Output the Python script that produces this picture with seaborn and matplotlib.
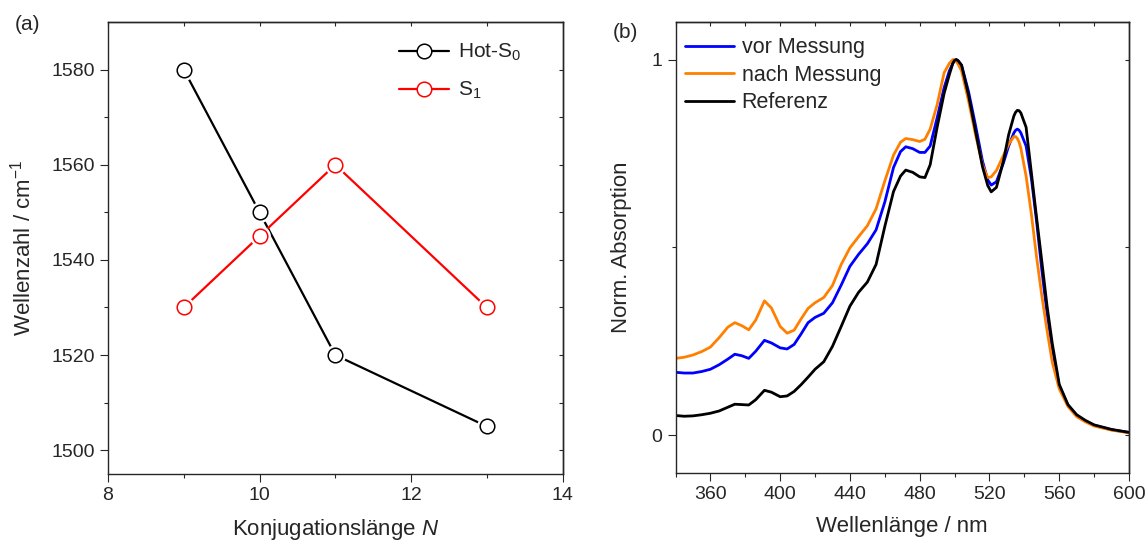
import numpy as np
import pandas as pd
import matplotlib
matplotlib.use("Agg")
import matplotlib.pyplot as plt
from matplotlib.lines import Line2D
from matplotlib.ticker import NullFormatter, FixedLocator
import seaborn as sns

# ---------------- data ----------------
# panel (a)
conj_len = [9, 10, 11, 13]
hot_s0 = [1580, 1550, 1520, 1505]
s1 = [1530, 1545, 1560, 1530]

# panel (b)
wavelength = [340, 345, 350, 355, 360, 365, 370, 374, 378, 382, 386, 391, 395, 400,
              404, 408, 412, 416, 420, 425, 430, 435, 440, 445, 450, 455, 460, 465,
              469, 472, 476, 480, 483, 486, 490, 494, 497, 499, 500, 501, 502, 504, 508, 512,
              516, 519, 521, 524, 528, 531, 534, 535, 536, 537, 538, 541, 544, 547, 550, 553,
              556, 560, 565, 570, 575, 580, 590, 600]
vor_messung = [.168, .166, .166, .170, .176, .188, .203, .216, .212, .205, .224, .253, .246, .233,
               .230, .242, .270, .300, .314, .325, .353, .400, .450, .482, .510, .547, .621, .713,
               .755, .768, .763, .753, .753, .770, .845, .925, .970, .990, .998, 1.000, .997, .985, .915, .825,
               .730, .680, .666, .675, .725, .770, .805, .812, .815, .812, .805, .770, .685, .570, .441, .325,
               .230, .131, .080, .053, .038, .027, .015, .008]
nach_messung = [.205, .208, .214, .223, .235, .260, .288, .300, .292, .281, .307, .358, .339, .290,
                .272, .280, .310, .338, .353, .367, .399, .455, .499, .529, .558, .603, .677, .746,
                .780, .790, .787, .782, .788, .815, .880, .965, .990, 1.000, .999, .995, .988, .970, .890, .800,
                .720, .686, .688, .705, .745, .775, .795, .795, .790, .780, .764, .690, .590, .475, .372, .280,
                .195, .124, .077, .050, .036, .025, .014, .007]
referenz = [.053, .051, .052, .055, .059, .065, .075, .083, .082, .081, .095, .120, .115, .103,
            .105, .117, .135, .155, .176, .196, .237, .290, .344, .381, .408, .455, .556, .649,
            .690, .706, .700, .688, .686, .720, .820, .910, .960, .990, .998, 1.000, .997, .985, .905, .810,
            .715, .665, .648, .660, .730, .800, .850, .860, .865, .864, .858, .820, .700, .580, .464, .345,
            .245, .136, .082, .055, .040, .028, .016, .008]

# ---------------- style ----------------
sns.set_theme(style="ticks")
plt.rcParams["font.family"] = ["Liberation Sans", "DejaVu Sans"]
plt.rcParams["mathtext.fontset"] = "custom"
plt.rcParams["mathtext.rm"] = "Liberation Sans"
plt.rcParams["mathtext.it"] = "Liberation Sans:italic"
plt.rcParams["axes.linewidth"] = 1.0

fig = plt.figure(figsize=(11.45, 5.47), dpi=100)
W, H = 1145, 547
ax1 = fig.add_axes([108 / W, 1 - 474 / H, (562.6 - 108) / W, (474 - 22) / H])
ax2 = fig.add_axes([675.5 / W, 1 - 473 / H, (1129 - 675.5) / W, (473 - 22) / H])

tick_fs = 14
label_fs = 16

# ---------------- panel (a) ----------------
df_a = pd.DataFrame({"N": conj_len, "hot": hot_s0, "s1": s1})
for col, c in [("hot", "black"), ("s1", "#FF0000")]:
    sns.lineplot(data=df_a, x="N", y=col, ax=ax1, color=c, linewidth=1.6, zorder=2)
    sns.lineplot(data=df_a, x="N", y=col, ax=ax1, linestyle="none", marker="o",
                 markersize=15, markerfacecolor="white", markeredgecolor="white",
                 markeredgewidth=0, zorder=3)
    sns.lineplot(data=df_a, x="N", y=col, ax=ax1, linestyle="none", marker="o",
                 markersize=10.5, markerfacecolor="white", markeredgecolor=c,
                 markeredgewidth=1.1, zorder=4)

ax1.set_xlim(8, 14)
ax1.set_ylim(1495, 1590)
ax1.xaxis.set_major_locator(FixedLocator([8, 10, 12, 14]))
ax1.xaxis.set_minor_locator(FixedLocator([9, 11, 13]))
ax1.yaxis.set_major_locator(FixedLocator([1500, 1520, 1540, 1560, 1580]))
ax1.yaxis.set_minor_locator(FixedLocator([1510, 1530, 1550, 1570]))
ax1.tick_params(which="major", direction="out", length=5.5, width=0.8, labelsize=tick_fs, pad=4)
ax1.tick_params(which="minor", direction="out", length=3, width=0.8)
ax1.set_xlabel("Konjugationslänge $\\it{N}$", fontsize=label_fs, labelpad=9)
ax1.set_ylabel("Wellenzahl / cm$^{-1}$", fontsize=label_fs, labelpad=11)

sx = ax1.secondary_xaxis("top")
sx.xaxis.set_major_locator(FixedLocator(list(range(8, 15))))
sx.xaxis.set_major_formatter(NullFormatter())
sx.tick_params(direction="in", length=3, width=0.8)
sy = ax1.secondary_yaxis("right")
sy.yaxis.set_major_locator(FixedLocator(list(range(1500, 1591, 10))))
sy.yaxis.set_major_formatter(NullFormatter())
sy.tick_params(direction="in", length=3, width=0.8)

handles_a = [Line2D([], [], color="black", lw=1.6, marker="o", ms=10.5, mfc="white", mec="black", mew=1.1),
             Line2D([], [], color="#FF0000", lw=1.6, marker="o", ms=10.5, mfc="white", mec="#FF0000", mew=1.1)]
ax1.legend(handles_a, ["Hot-S$_0$", "S$_1$"], loc="upper left", bbox_to_anchor=(0.641, 0.956),
           frameon=False, fontsize=15, handlelength=2.4, handletextpad=0.4,
           labelspacing=0.8, borderaxespad=0, borderpad=0)

# ---------------- panel (b) ----------------
df_b = pd.DataFrame({"wl": wavelength, "vor": vor_messung, "nach": nach_messung, "ref": referenz})
series_b = [("vor", "#0000FF", "vor Messung"), ("nach", "#FF8000", "nach Messung"),
            ("ref", "black", "Referenz")]
for col, c, lab in series_b:
    sns.lineplot(data=df_b, x="wl", y=col, ax=ax2, color=c, linewidth=2.0, label=lab)

ax2.set_xlim(340, 600)
ax2.set_ylim(-0.1, 1.1)
ax2.xaxis.set_major_locator(FixedLocator([360, 400, 440, 480, 520, 560, 600]))
ax2.xaxis.set_minor_locator(FixedLocator([340, 380, 420, 460, 500, 540, 580]))
ax2.yaxis.set_major_locator(FixedLocator([0, 1]))
ax2.yaxis.set_minor_locator(FixedLocator([0.5]))
ax2.set_yticklabels(["0", "1"])
ax2.tick_params(which="major", direction="out", length=5.5, width=0.8, labelsize=tick_fs, pad=4)
ax2.tick_params(which="minor", direction="out", length=3, width=0.8)
ax2.set_xlabel("Wellenlänge / nm", fontsize=label_fs, labelpad=9)
ax2.set_ylabel("Norm. Absorption", fontsize=label_fs, labelpad=14)

sx2 = ax2.secondary_xaxis("top")
sx2.xaxis.set_major_locator(FixedLocator(list(range(340, 601, 20))))
sx2.xaxis.set_major_formatter(NullFormatter())
sx2.tick_params(direction="in", length=3, width=0.8)
sy2 = ax2.secondary_yaxis("right")
sy2.yaxis.set_major_locator(FixedLocator([0, 0.5, 1]))
sy2.yaxis.set_major_formatter(NullFormatter())
sy2.tick_params(direction="in", length=3, width=0.8)

ax2.legend(loc="upper left", bbox_to_anchor=(0.02, 0.966), frameon=False, fontsize=15.5,
           handlelength=2.3, handletextpad=0.35, labelspacing=0.3, borderaxespad=0, borderpad=0)

for ax in (ax1, ax2):
    for s in ax.spines.values():
        s.set_visible(True)
        s.set_linewidth(1.0)

fig.text(28 / W, 1 - 25 / H, "(a)", fontsize=15, ha="center", va="center")
fig.text(625 / W, 1 - 33 / H, "(b)", fontsize=15, ha="center", va="center")

fig.savefig("out.png", dpi=100)
